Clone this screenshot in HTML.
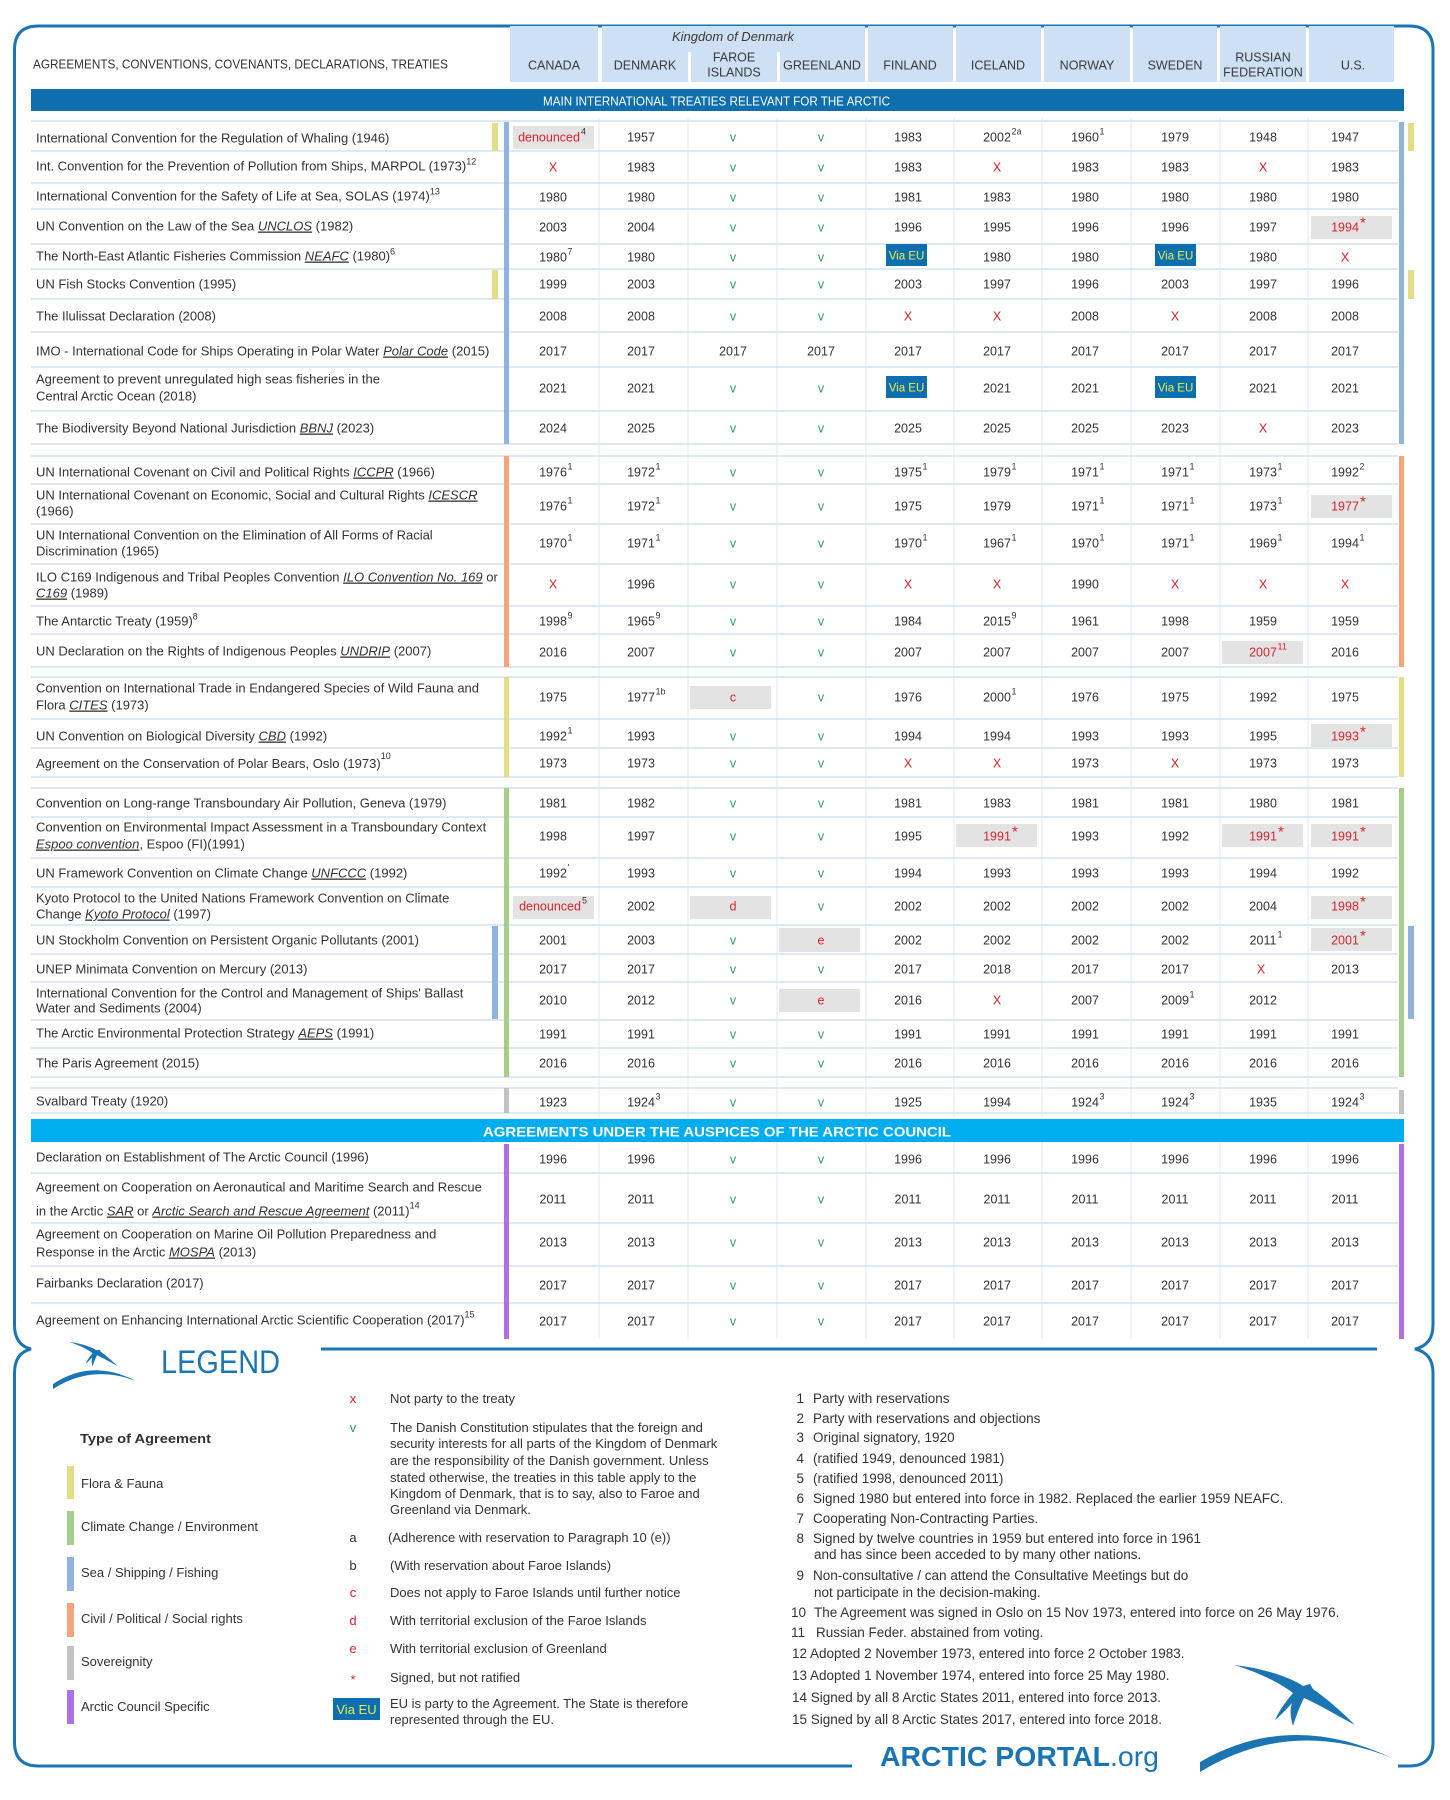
<!DOCTYPE html>
<html><head><meta charset="utf-8">
<style>
html,body{margin:0;padding:0;background:#fff;}
svg{display:block;}
svg text{font-family:"Liberation Sans",Arial,sans-serif;}
.hd{font-size:12.5px;fill:#3a3a3a;text-anchor:middle;}
.d text{font-size:12.5px;fill:#333;text-anchor:middle;}
.d .x{fill:#d9232e;}
.d .v{fill:#2e9b63;}
.d .s{font-size:9px;text-anchor:start;}
.d .rs{font-size:9px;text-anchor:start;fill:#d9232e;}
.d .a{font-size:15px;fill:#d9232e;text-anchor:start;}
.d .eut{fill:#e4ef48;font-size:11.5px;}
.g{fill:#e3e3e3;}
.eu{fill:#0f6fae;}
.l text{font-size:13px;fill:#333;}
.u{font-style:italic;text-decoration:underline;}
.sp{font-size:9px;}
.lg text{font-size:13px;fill:#333;}
.fn text{font-size:13.5px;fill:#333;}
</style></head>
<body>
<svg width="1450" height="1800" viewBox="0 0 1450 1800" xmlns="http://www.w3.org/2000/svg">
<rect width="1450" height="1800" fill="#fff"/>

<!-- frame -->
<g fill="none" stroke="#1b75b3" stroke-width="3">
<path d="M14.5,1325 V50 Q14.5,26 38.5,26 H1409 Q1433,26 1433,50 V1325 Q1433,1345 1415,1349 Q1433,1353 1433,1373 V1742 Q1433,1766 1409,1766 H1398"/>
<path d="M14.5,1325 Q14.5,1345 31,1349 Q14.5,1353 14.5,1373 V1742 Q14.5,1766 38.5,1766 H852"/>
<path d="M321,1349 H1377"/>
</g>

<!-- header -->
<g fill="#cde0f4">
<rect x="510" y="26" width="88" height="56"/>
<rect x="602" y="26" width="263" height="56"/>
<rect x="868" y="26" width="85" height="56"/>
<rect x="956" y="26" width="85" height="56"/>
<rect x="1044" y="26" width="86" height="56"/>
<rect x="1133" y="26" width="84" height="56"/>
<rect x="1220" y="26" width="86" height="56"/>
<rect x="1309" y="26" width="85" height="56"/>
</g>
<rect x="688" y="52" width="3" height="30" fill="#fff"/>
<rect x="777" y="52" width="3" height="30" fill="#fff"/>
<text x="33" y="68.5" font-size="12.5" fill="#333" textLength="415" lengthAdjust="spacingAndGlyphs">AGREEMENTS, CONVENTIONS, COVENANTS, DECLARATIONS, TREATIES</text>
<text x="733" y="41" font-size="13" font-style="italic" fill="#3a3a3a" text-anchor="middle">Kingdom of Denmark</text>
<text class="hd" x="554" y="69.5">CANADA</text>
<text class="hd" x="645" y="69.5">DENMARK</text>
<text class="hd" x="734" y="61.5">FAROE</text>
<text class="hd" x="734" y="76.5">ISLANDS</text>
<text class="hd" x="822" y="69.5">GREENLAND</text>
<text class="hd" x="910" y="69.5">FINLAND</text>
<text class="hd" x="998" y="69.5">ICELAND</text>
<text class="hd" x="1087" y="69.5">NORWAY</text>
<text class="hd" x="1175" y="69.5">SWEDEN</text>
<text class="hd" x="1263" y="61.5">RUSSIAN</text>
<text class="hd" x="1263" y="76.5">FEDERATION</text>
<text class="hd" x="1353" y="69.5">U.S.</text>

<!-- section bar 1 -->
<rect x="31" y="89" width="1373" height="22" fill="#0f6fae"/>
<text x="543" y="105.5" font-size="13" fill="#fff" textLength="347" lengthAdjust="spacingAndGlyphs">MAIN INTERNATIONAL TREATIES RELEVANT FOR THE ARCTIC</text>

<!-- grid -->
<path fill="none" stroke="#e0eaf5" stroke-width="1" d="M599,118V1339M688,118V1339M777,118V1339M866,118V1339M954,118V1339M1042,118V1339M1131,118V1339M1220,118V1339M1308,118V1339"/>
<path fill="none" stroke="#d3e2f1" stroke-width="1.5" d="M31,121H1398M31,151H1398M31,183H1398M31,209H1398M31,244H1398M31,269H1398M31,299H1398M31,332H1398M31,367H1398M31,411H1398M31,444H1398M31,456H1398M31,484H1398M31,524H1398M31,564H1398M31,606H1398M31,634H1398M31,667H1398M31,677H1398M31,719H1398M31,748H1398M31,777H1398M31,788H1398M31,817H1398M31,858H1398M31,887H1398M31,925H1398M31,954H1398M31,982H1398M31,1020H1398M31,1048H1398M31,1077H1398M31,1088H1398M31,1113H1398M31,1173H1398M31,1223H1398M31,1266H1398M31,1303H1398"/>

<!-- colour bars -->
<g>
<rect x="504" y="122" width="5" height="322" fill="#8fb4df"/><rect x="1399" y="122" width="5" height="322" fill="#8fb4df"/>
<rect x="504" y="456" width="5" height="211" fill="#f4a67a"/><rect x="1399" y="456" width="5" height="211" fill="#f4a67a"/>
<rect x="504" y="677" width="5" height="100" fill="#e2de86"/><rect x="1399" y="677" width="5" height="100" fill="#e2de86"/>
<rect x="504" y="788" width="5" height="289" fill="#a7cf8b"/><rect x="1399" y="788" width="5" height="289" fill="#a7cf8b"/>
<rect x="504" y="1088" width="5" height="25" fill="#c2c2c2"/><rect x="1399" y="1090" width="5" height="24" fill="#c2c2c2"/>
<rect x="504" y="1144" width="5" height="195" fill="#b070e6"/><rect x="1399" y="1144" width="5" height="195" fill="#b070e6"/>
<rect x="492" y="123" width="6" height="28" fill="#e2de86"/><rect x="1408" y="123" width="6" height="28" fill="#e2de86"/>
<rect x="492" y="270" width="6" height="29" fill="#e2de86"/><rect x="1408" y="270" width="6" height="29" fill="#e2de86"/>
<rect x="492" y="926" width="6" height="93" fill="#8fb4df"/><rect x="1408" y="926" width="6" height="93" fill="#8fb4df"/>
</g>

<!-- labels -->
<g class="l">
<text x="36" y="142.5">International Convention for the Regulation of Whaling (1946)</text>
<text x="36" y="170.5">Int. Convention for the Prevention of Pollution from Ships, MARPOL (1973)<tspan class="sp" dy="-6">12</tspan></text>
<text x="36" y="200.5">International Convention for the Safety of Life at Sea, SOLAS (1974)<tspan class="sp" dy="-6">13</tspan></text>
<text x="36" y="230.5">UN Convention on the Law of the Sea <tspan class="u">UNCLOS</tspan> (1982)</text>
<text x="36" y="260.5">The North-East Atlantic Fisheries Commission <tspan class="u">NEAFC</tspan> (1980)<tspan class="sp" dy="-6">6</tspan></text>
<text x="36" y="288.5">UN Fish Stocks Convention (1995)</text>
<text x="36" y="320.5">The Ilulissat Declaration (2008)</text>
<text x="36" y="355.5">IMO - International Code for Ships Operating in Polar Water <tspan class="u">Polar Code</tspan> (2015)</text>
<text x="36" y="383.5">Agreement to prevent unregulated high seas fisheries in the</text>
<text x="36" y="400.5">Central Arctic Ocean (2018)</text>
<text x="36" y="432.5">The Biodiversity Beyond National Jurisdiction <tspan class="u">BBNJ</tspan> (2023)</text>
<text x="36" y="476.5">UN International Covenant on Civil and Political Rights <tspan class="u">ICCPR</tspan> (1966)</text>
<text x="36" y="499.5">UN International Covenant on Economic, Social and Cultural Rights <tspan class="u">ICESCR</tspan></text>
<text x="36" y="515.5">(1966)</text>
<text x="36" y="539.5">UN International Convention on the Elimination of All Forms of Racial</text>
<text x="36" y="555.5">Discrimination (1965)</text>
<text x="36" y="581.5">ILO C169 Indigenous and Tribal Peoples Convention <tspan class="u">ILO Convention No. 169</tspan> or</text>
<text x="36" y="597.5"><tspan class="u">C169</tspan> (1989)</text>
<text x="36" y="625.5">The Antarctic Treaty (1959)<tspan class="sp" dy="-6">8</tspan></text>
<text x="36" y="655.5">UN Declaration on the Rights of Indigenous Peoples <tspan class="u">UNDRIP</tspan> (2007)</text>
<text x="36" y="692.5">Convention on International Trade in Endangered Species of Wild Fauna and</text>
<text x="36" y="709.5">Flora <tspan class="u">CITES</tspan> (1973)</text>
<text x="36" y="740.5">UN Convention on Biological Diversity <tspan class="u">CBD</tspan> (1992)</text>
<text x="36" y="768">Agreement on the Conservation of Polar Bears, Oslo (1973)<tspan class="sp" dy="-9">10</tspan></text>
<text x="36" y="807.5">Convention on Long-range Transboundary Air Pollution, Geneva (1979)</text>
<text x="36" y="831.5">Convention on Environmental Impact Assessment in a Transboundary Context</text>
<text x="36" y="848.5"><tspan class="u">Espoo convention</tspan>, Espoo (FI)(1991)</text>
<text x="36" y="877.5">UN Framework Convention on Climate Change <tspan class="u">UNFCCC</tspan> (1992)</text>
<text x="36" y="902.5">Kyoto Protocol to the United Nations Framework Convention on Climate</text>
<text x="36" y="918.5">Change <tspan class="u">Kyoto Protocol</tspan> (1997)</text>
<text x="36" y="944.5">UN Stockholm Convention on Persistent Organic Pollutants (2001)</text>
<text x="36" y="973.5">UNEP Minimata Convention on Mercury (2013)</text>
<text x="36" y="997.5">International Convention for the Control and Management of Ships' Ballast</text>
<text x="36" y="1012.5">Water and Sediments (2004)</text>
<text x="36" y="1037.5">The Arctic Environmental Protection Strategy <tspan class="u">AEPS</tspan> (1991)</text>
<text x="36" y="1067.5">The Paris Agreement (2015)</text>
<text x="36" y="1105.5">Svalbard Treaty (1920)</text>
<text x="36" y="1161.5">Declaration on Establishment of The Arctic Council (1996)</text>
<text x="36" y="1191.5">Agreement on Cooperation on Aeronautical and Maritime Search and Rescue</text>
<text x="36" y="1215.5">in the Arctic <tspan class="u">SAR</tspan> or <tspan class="u">Arctic Search and Rescue Agreement</tspan> (2011)<tspan class="sp" dy="-7">14</tspan></text>
<text x="36" y="1238.5">Agreement on Cooperation on Marine Oil Pollution Preparedness and</text>
<text x="36" y="1256.5">Response in the Arctic <tspan class="u">MOSPA</tspan> (2013)</text>
<text x="36" y="1287.5">Fairbanks Declaration (2017)</text>
<text x="36" y="1324.5">Agreement on Enhancing International Arctic Scientific Cooperation (2017)<tspan class="sp" dy="-7">15</tspan></text>
</g>

<!-- data -->
<g class="d">
<g transform="translate(0,141.5)">
<rect class="g" x="513" y="-15.5" width="81" height="23"/>
<text class="x" x="549">denounced</text><text class="s" x="581" y="-7">4</text>
<text x="641">1957</text><text class="v" x="733">v</text><text class="v" x="821">v</text>
<text x="908">1983</text><text x="997">2002</text><text class="s" x="1011.5" y="-7">2a</text>
<text x="1085">1960</text><text class="s" x="1099.5" y="-7">1</text>
<text x="1175">1979</text><text x="1263">1948</text><text x="1345">1947</text>
</g>
<g transform="translate(0,171.5)">
<text class="x" x="553">X</text><text x="641">1983</text><text class="v" x="733">v</text><text class="v" x="821">v</text>
<text x="908">1983</text><text class="x" x="997">X</text><text x="1085">1983</text><text x="1175">1983</text><text class="x" x="1263">X</text><text x="1345">1983</text>
</g>
<g transform="translate(0,201.5)">
<text x="553">1980</text><text x="641">1980</text><text class="v" x="733">v</text><text class="v" x="821">v</text>
<text x="908">1981</text><text x="997">1983</text><text x="1085">1980</text><text x="1175">1980</text><text x="1263">1980</text><text x="1345">1980</text>
</g>
<g transform="translate(0,231.5)">
<text x="553">2003</text><text x="641">2004</text><text class="v" x="733">v</text><text class="v" x="821">v</text>
<text x="908">1996</text><text x="997">1995</text><text x="1085">1996</text><text x="1175">1996</text><text x="1263">1997</text>
<rect class="g" x="1311" y="-15.5" width="81" height="23"/><text class="x" x="1345">1994</text><text class="a" x="1360" y="-4">*</text>
</g>
<g transform="translate(0,261.5)">
<text x="553">1980</text><text class="s" x="567.5" y="-7">7</text><text x="641">1980</text><text class="v" x="733">v</text><text class="v" x="821">v</text>
<rect class="eu" x="886" y="-17.5" width="41" height="22"/><text class="eut" x="906.5" y="-2">Via EU</text>
<text x="997">1980</text><text x="1085">1980</text>
<rect class="eu" x="1155" y="-17.5" width="41" height="22"/><text class="eut" x="1175.5" y="-2">Via EU</text>
<text x="1263">1980</text><text class="x" x="1345">X</text>
</g>
<g transform="translate(0,288.5)">
<text x="553">1999</text><text x="641">2003</text><text class="v" x="733">v</text><text class="v" x="821">v</text>
<text x="908">2003</text><text x="997">1997</text><text x="1085">1996</text><text x="1175">2003</text><text x="1263">1997</text><text x="1345">1996</text>
</g>
<g transform="translate(0,320.5)">
<text x="553">2008</text><text x="641">2008</text><text class="v" x="733">v</text><text class="v" x="821">v</text>
<text class="x" x="908">X</text><text class="x" x="997">X</text><text x="1085">2008</text><text class="x" x="1175">X</text><text x="1263">2008</text><text x="1345">2008</text>
</g>
<g transform="translate(0,355.5)">
<text x="553">2017</text><text x="641">2017</text><text x="733">2017</text><text x="821">2017</text>
<text x="908">2017</text><text x="997">2017</text><text x="1085">2017</text><text x="1175">2017</text><text x="1263">2017</text><text x="1345">2017</text>
</g>
<g transform="translate(0,392.5)">
<text x="553">2021</text><text x="641">2021</text><text class="v" x="733">v</text><text class="v" x="821">v</text>
<rect class="eu" x="886" y="-16.5" width="41" height="22"/><text class="eut" x="906.5" y="-1">Via EU</text>
<text x="997">2021</text><text x="1085">2021</text>
<rect class="eu" x="1155" y="-16.5" width="41" height="22"/><text class="eut" x="1175.5" y="-1">Via EU</text>
<text x="1263">2021</text><text x="1345">2021</text>
</g>
<g transform="translate(0,432.5)">
<text x="553">2024</text><text x="641">2025</text><text class="v" x="733">v</text><text class="v" x="821">v</text>
<text x="908">2025</text><text x="997">2025</text><text x="1085">2025</text><text x="1175">2023</text><text class="x" x="1263">X</text><text x="1345">2023</text>
</g>
<g transform="translate(0,476.5)">
<text x="553">1976</text><text class="s" x="567.5" y="-7">1</text><text x="641">1972</text><text class="s" x="655.5" y="-7">1</text>
<text class="v" x="733">v</text><text class="v" x="821">v</text>
<text x="908">1975</text><text class="s" x="922.5" y="-7">1</text><text x="997">1979</text><text class="s" x="1011.5" y="-7">1</text>
<text x="1085">1971</text><text class="s" x="1099.5" y="-7">1</text><text x="1175">1971</text><text class="s" x="1189.5" y="-7">1</text>
<text x="1263">1973</text><text class="s" x="1277.5" y="-7">1</text><text x="1345">1992</text><text class="s" x="1359.5" y="-7">2</text>
</g>
<g transform="translate(0,510.5)">
<text x="553">1976</text><text class="s" x="567.5" y="-7">1</text><text x="641">1972</text><text class="s" x="655.5" y="-7">1</text>
<text class="v" x="733">v</text><text class="v" x="821">v</text>
<text x="908">1975</text><text x="997">1979</text>
<text x="1085">1971</text><text class="s" x="1099.5" y="-7">1</text><text x="1175">1971</text><text class="s" x="1189.5" y="-7">1</text>
<text x="1263">1973</text><text class="s" x="1277.5" y="-7">1</text>
<rect class="g" x="1311" y="-15.5" width="81" height="23"/><text class="x" x="1345">1977</text><text class="a" x="1360" y="-4">*</text>
</g>
<g transform="translate(0,547.5)">
<text x="553">1970</text><text class="s" x="567.5" y="-7">1</text><text x="641">1971</text><text class="s" x="655.5" y="-7">1</text>
<text class="v" x="733">v</text><text class="v" x="821">v</text>
<text x="908">1970</text><text class="s" x="922.5" y="-7">1</text><text x="997">1967</text><text class="s" x="1011.5" y="-7">1</text>
<text x="1085">1970</text><text class="s" x="1099.5" y="-7">1</text><text x="1175">1971</text><text class="s" x="1189.5" y="-7">1</text>
<text x="1263">1969</text><text class="s" x="1277.5" y="-7">1</text><text x="1345">1994</text><text class="s" x="1359.5" y="-7">1</text>
</g>
<g transform="translate(0,588.5)">
<text class="x" x="553">X</text><text x="641">1996</text><text class="v" x="733">v</text><text class="v" x="821">v</text>
<text class="x" x="908">X</text><text class="x" x="997">X</text><text x="1085">1990</text><text class="x" x="1175">X</text><text class="x" x="1263">X</text><text class="x" x="1345">X</text>
</g>
<g transform="translate(0,625.5)">
<text x="553">1998</text><text class="s" x="567.5" y="-7">9</text><text x="641">1965</text><text class="s" x="655.5" y="-7">9</text>
<text class="v" x="733">v</text><text class="v" x="821">v</text>
<text x="908">1984</text><text x="997">2015</text><text class="s" x="1011.5" y="-7">9</text>
<text x="1085">1961</text><text x="1175">1998</text><text x="1263">1959</text><text x="1345">1959</text>
</g>
<g transform="translate(0,656.5)">
<text x="553">2016</text><text x="641">2007</text><text class="v" x="733">v</text><text class="v" x="821">v</text>
<text x="908">2007</text><text x="997">2007</text><text x="1085">2007</text><text x="1175">2007</text>
<rect class="g" x="1222" y="-15.5" width="81" height="23"/><text class="x" x="1263">2007</text><text class="rs" x="1277.5" y="-7">11</text>
<text x="1345">2016</text>
</g>
<g transform="translate(0,701.5)">
<text x="553">1975</text><text x="641">1977</text><text class="s" x="655.5" y="-7">1b</text>
<rect class="g" x="690" y="-15.5" width="81" height="23"/><text class="x" x="733">c</text>
<text class="v" x="821">v</text>
<text x="908">1976</text><text x="997">2000</text><text class="s" x="1011.5" y="-7">1</text>
<text x="1085">1976</text><text x="1175">1975</text><text x="1263">1992</text><text x="1345">1975</text>
</g>
<g transform="translate(0,740.5)">
<text x="553">1992</text><text class="s" x="567.5" y="-7">1</text><text x="641">1993</text><text class="v" x="733">v</text><text class="v" x="821">v</text>
<text x="908">1994</text><text x="997">1994</text><text x="1085">1993</text><text x="1175">1993</text><text x="1263">1995</text>
<rect class="g" x="1311" y="-16.5" width="81" height="23"/><text class="x" x="1345">1993</text><text class="a" x="1360" y="-4">*</text>
</g>
<g transform="translate(0,767.5)">
<text x="553">1973</text><text x="641">1973</text><text class="v" x="733">v</text><text class="v" x="821">v</text>
<text class="x" x="908">X</text><text class="x" x="997">X</text><text x="1085">1973</text><text class="x" x="1175">X</text><text x="1263">1973</text><text x="1345">1973</text>
</g>
<g transform="translate(0,807.5)">
<text x="553">1981</text><text x="641">1982</text><text class="v" x="733">v</text><text class="v" x="821">v</text>
<text x="908">1981</text><text x="997">1983</text><text x="1085">1981</text><text x="1175">1981</text><text x="1263">1980</text><text x="1345">1981</text>
</g>
<g transform="translate(0,840.5)">
<text x="553">1998</text><text x="641">1997</text><text class="v" x="733">v</text><text class="v" x="821">v</text>
<text x="908">1995</text>
<rect class="g" x="956" y="-16.5" width="81" height="23"/><text class="x" x="997">1991</text><text class="a" x="1012" y="-4">*</text>
<text x="1085">1993</text><text x="1175">1992</text>
<rect class="g" x="1222" y="-16.5" width="81" height="23"/><text class="x" x="1263">1991</text><text class="a" x="1278" y="-4">*</text>
<rect class="g" x="1311" y="-16.5" width="81" height="23"/><text class="x" x="1345">1991</text><text class="a" x="1360" y="-4">*</text>
</g>
<g transform="translate(0,877.5)">
<text x="553">1992</text><text class="s" x="567.5" y="-7">'</text><text x="641">1993</text><text class="v" x="733">v</text><text class="v" x="821">v</text>
<text x="908">1994</text><text x="997">1993</text><text x="1085">1993</text><text x="1175">1993</text><text x="1263">1994</text><text x="1345">1992</text>
</g>
<g transform="translate(0,910.5)">
<rect class="g" x="513" y="-14.5" width="81" height="23"/><text class="x" x="550">denounced</text><text class="s" x="582" y="-7">5</text>
<text x="641">2002</text>
<rect class="g" x="690" y="-14.5" width="81" height="23"/><text class="x" x="733">d</text>
<text class="v" x="821">v</text>
<text x="908">2002</text><text x="997">2002</text><text x="1085">2002</text><text x="1175">2002</text><text x="1263">2004</text>
<rect class="g" x="1311" y="-14.5" width="81" height="23"/><text class="x" x="1345">1998</text><text class="a" x="1360" y="-4">*</text>
</g>
<g transform="translate(0,944.5)">
<text x="553">2001</text><text x="641">2003</text><text class="v" x="733">v</text>
<rect class="g" x="779" y="-16.5" width="81" height="24"/><text class="x" x="821">e</text>
<text x="908">2002</text><text x="997">2002</text><text x="1085">2002</text><text x="1175">2002</text>
<text x="1263">2011</text><text class="s" x="1277.5" y="-7">1</text>
<rect class="g" x="1311" y="-16.5" width="81" height="23"/><text class="x" x="1345">2001</text><text class="a" x="1360" y="-4">*</text>
</g>
<g transform="translate(0,973.5)">
<text x="553">2017</text><text x="641">2017</text><text class="v" x="733">v</text><text class="v" x="821">v</text>
<text x="908">2017</text><text x="997">2018</text><text x="1085">2017</text><text x="1175">2017</text><text class="x" x="1261">X</text><text x="1345">2013</text>
</g>
<g transform="translate(0,1004.5)">
<text x="553">2010</text><text x="641">2012</text><text class="v" x="733">v</text>
<rect class="g" x="779" y="-15.5" width="81" height="23"/><text class="x" x="821">e</text>
<text x="908">2016</text><text class="x" x="997">X</text><text x="1085">2007</text>
<text x="1175">2009</text><text class="s" x="1189.5" y="-7">1</text><text x="1263">2012</text>
</g>
<g transform="translate(0,1038.5)">
<text x="553">1991</text><text x="641">1991</text><text class="v" x="733">v</text><text class="v" x="821">v</text>
<text x="908">1991</text><text x="997">1991</text><text x="1085">1991</text><text x="1175">1991</text><text x="1263">1991</text><text x="1345">1991</text>
</g>
<g transform="translate(0,1067.5)">
<text x="553">2016</text><text x="641">2016</text><text class="v" x="733">v</text><text class="v" x="821">v</text>
<text x="908">2016</text><text x="997">2016</text><text x="1085">2016</text><text x="1175">2016</text><text x="1263">2016</text><text x="1345">2016</text>
</g>
<g transform="translate(0,1106.5)">
<text x="553">1923</text><text x="641">1924</text><text class="s" x="655.5" y="-7">3</text>
<text class="v" x="733">v</text><text class="v" x="821">v</text>
<text x="908">1925</text><text x="997">1994</text>
<text x="1085">1924</text><text class="s" x="1099.5" y="-7">3</text><text x="1175">1924</text><text class="s" x="1189.5" y="-7">3</text>
<text x="1263">1935</text><text x="1345">1924</text><text class="s" x="1359.5" y="-7">3</text>
</g>
<g transform="translate(0,1163.5)">
<text x="553">1996</text><text x="641">1996</text><text class="v" x="733">v</text><text class="v" x="821">v</text>
<text x="908">1996</text><text x="997">1996</text><text x="1085">1996</text><text x="1175">1996</text><text x="1263">1996</text><text x="1345">1996</text>
</g>
<g transform="translate(0,1203.5)">
<text x="553">2011</text><text x="641">2011</text><text class="v" x="733">v</text><text class="v" x="821">v</text>
<text x="908">2011</text><text x="997">2011</text><text x="1085">2011</text><text x="1175">2011</text><text x="1263">2011</text><text x="1345">2011</text>
</g>
<g transform="translate(0,1246.5)">
<text x="553">2013</text><text x="641">2013</text><text class="v" x="733">v</text><text class="v" x="821">v</text>
<text x="908">2013</text><text x="997">2013</text><text x="1085">2013</text><text x="1175">2013</text><text x="1263">2013</text><text x="1345">2013</text>
</g>
<g transform="translate(0,1289.5)">
<text x="553">2017</text><text x="641">2017</text><text class="v" x="733">v</text><text class="v" x="821">v</text>
<text x="908">2017</text><text x="997">2017</text><text x="1085">2017</text><text x="1175">2017</text><text x="1263">2017</text><text x="1345">2017</text>
</g>
<g transform="translate(0,1325.5)">
<text x="553">2017</text><text x="641">2017</text><text class="v" x="733">v</text><text class="v" x="821">v</text>
<text x="908">2017</text><text x="997">2017</text><text x="1085">2017</text><text x="1175">2017</text><text x="1263">2017</text><text x="1345">2017</text>
</g>
</g>

<!-- section bar 2 -->
<rect x="31" y="1119" width="1373" height="23" fill="#00adef"/>
<text x="483" y="1136.5" font-size="14" font-weight="bold" fill="#fff" textLength="468" lengthAdjust="spacingAndGlyphs">AGREEMENTS UNDER THE AUSPICES OF THE ARCTIC COUNCIL</text>

<!-- legend header -->
<g fill="#1b75b3">
<path transform="translate(-424.6,676) scale(0.4)" d="M1234,1665 C1262,1668 1290,1677 1303,1686 L1310,1684 L1313,1689 C1326,1698 1342,1712 1355,1725 C1338,1716 1318,1704 1304,1698 C1300,1706 1296,1716 1293,1726 C1290,1716 1290,1709 1292,1703 C1286,1710 1281,1715 1275,1720 C1280,1709 1287,1700 1293,1693 C1280,1683 1258,1672 1234,1665 Z"/>
<path d="M53,1384 Q92,1358 136,1381 Q92,1364 53,1389 Z"/>
<path transform="translate(0,0)" d="M1234,1665 C1262,1668 1290,1677 1303,1686 L1310,1684 L1313,1689 C1326,1698 1342,1712 1355,1725 C1338,1716 1318,1704 1304,1698 C1300,1706 1296,1716 1293,1726 C1290,1716 1290,1709 1292,1703 C1286,1710 1281,1715 1275,1720 C1280,1709 1287,1700 1293,1693 C1280,1683 1258,1672 1234,1665 Z"/>
<path d="M1200,1762 Q1290,1710 1392,1758 Q1290,1717 1200,1772 Z"/>
</g>
<text x="161" y="1373" font-size="32" fill="#1b75b3" textLength="119" lengthAdjust="spacingAndGlyphs">LEGEND</text>

<!-- legend column 1 -->
<g class="lg">
<text x="80" y="1443" font-weight="bold" font-size="13.5" fill="#222" textLength="131" lengthAdjust="spacingAndGlyphs">Type of Agreement</text>
<rect x="67" y="1466" width="7" height="33" fill="#e2de86"/>
<rect x="67" y="1511" width="7" height="34" fill="#a7cf8b"/>
<rect x="67" y="1557" width="7" height="34" fill="#8fb4df"/>
<rect x="67" y="1603" width="7" height="34" fill="#f4a67a"/>
<rect x="67" y="1646" width="7" height="34" fill="#c2c2c2"/>
<rect x="67" y="1690" width="7" height="34" fill="#b070e6"/>
<text x="81" y="1488" font-size="13.5">Flora &amp; Fauna</text>
<text x="81" y="1531" font-size="13.5">Climate Change / Environment</text>
<text x="81" y="1577" font-size="13.5">Sea / Shipping / Fishing</text>
<text x="81" y="1623" font-size="13.5">Civil / Political / Social rights</text>
<text x="81" y="1666" font-size="13.5">Sovereignity</text>
<text x="81" y="1711" font-size="13.5">Arctic Council Specific</text>
</g>

<!-- legend column 2 -->
<g class="lg">
<text x="353" y="1403" text-anchor="middle" style="fill:#d9232e">x</text>
<text x="390" y="1403">Not party to the treaty</text>
<text x="353" y="1432" text-anchor="middle" style="fill:#2e9b63">v</text>
<text x="390" y="1432">The Danish Constitution stipulates that the foreign and</text>
<text x="390" y="1448">security interests for all parts of the Kingdom of Denmark</text>
<text x="390" y="1465">are the responsibility of the Danish government. Unless</text>
<text x="390" y="1482">stated otherwise, the treaties in this table apply to the</text>
<text x="390" y="1498">Kingdom of Denmark, that is to say, also to Faroe and</text>
<text x="390" y="1514">Greenland via Denmark.</text>
<text x="353" y="1542" text-anchor="middle">a</text>
<text x="388" y="1542">(Adherence with reservation to Paragraph 10 (e))</text>
<text x="353" y="1570" text-anchor="middle">b</text>
<text x="390" y="1570">(With reservation about Faroe Islands)</text>
<text x="353" y="1597" text-anchor="middle" style="fill:#d9232e">c</text>
<text x="390" y="1597">Does not apply to Faroe Islands until further notice</text>
<text x="353" y="1625" text-anchor="middle" style="fill:#d9232e">d</text>
<text x="390" y="1625">With territorial exclusion of the Faroe Islands</text>
<text x="353" y="1653" text-anchor="middle" style="fill:#d9232e">e</text>
<text x="390" y="1653">With territorial exclusion of Greenland</text>
<text x="353" y="1684" text-anchor="middle" style="fill:#d9232e">*</text>
<text x="390" y="1682">Signed, but not ratified</text>
<rect x="333" y="1698" width="47" height="22" fill="#0f6fae"/>
<text x="356.5" y="1714" text-anchor="middle" style="fill:#e4ef48">Via EU</text>
<text x="390" y="1708">EU is party to the Agreement. The State is therefore</text>
<text x="390" y="1724">represented through the EU.</text>
</g>

<!-- footnotes -->
<g class="fn">
<text x="804" y="1403" text-anchor="end">1</text><text x="813" y="1403">Party with reservations</text>
<text x="804" y="1423" text-anchor="end">2</text><text x="813" y="1423">Party with reservations and objections</text>
<text x="804" y="1442" text-anchor="end">3</text><text x="813" y="1442">Original signatory, 1920</text>
<text x="804" y="1463" text-anchor="end">4</text><text x="813" y="1463">(ratified 1949, denounced 1981)</text>
<text x="804" y="1483" text-anchor="end">5</text><text x="813" y="1483">(ratified 1998, denounced 2011)</text>
<text x="804" y="1503" text-anchor="end">6</text><text x="813" y="1503">Signed 1980 but entered into force in 1982. Replaced the earlier 1959 NEAFC.</text>
<text x="804" y="1523" text-anchor="end">7</text><text x="813" y="1523">Cooperating Non-Contracting Parties.</text>
<text x="804" y="1543" text-anchor="end">8</text><text x="813" y="1543">Signed by twelve countries in 1959 but entered into force in 1961</text>
<text x="814" y="1559">and has since been acceded to by many other nations.</text>
<text x="804" y="1580" text-anchor="end">9</text><text x="813" y="1580">Non-consultative / can attend the Consultative Meetings but do</text>
<text x="814" y="1597">not participate in the decision-making.</text>
<text x="791" y="1617">10</text><text x="814" y="1617">The Agreement was signed in Oslo on 15 Nov 1973, entered into force on 26 May 1976.</text>
<text x="791" y="1637">11</text><text x="816" y="1637">Russian Feder. abstained from voting.</text>
<text x="792" y="1658">12 Adopted 2 November 1973, entered into force 2 October 1983.</text>
<text x="792" y="1680">13 Adopted 1 November 1974, entered into force 25 May 1980.</text>
<text x="792" y="1702">14 Signed by all 8 Arctic States 2011, entered into force 2013.</text>
<text x="792" y="1724">15 Signed by all 8 Arctic States 2017, entered into force 2018.</text>
</g>

<text x="880" y="1766" font-size="28" fill="#1b75b3" textLength="279" lengthAdjust="spacingAndGlyphs"><tspan font-weight="bold">ARCTIC PORTAL</tspan>.org</text>
</svg>
</body></html>
